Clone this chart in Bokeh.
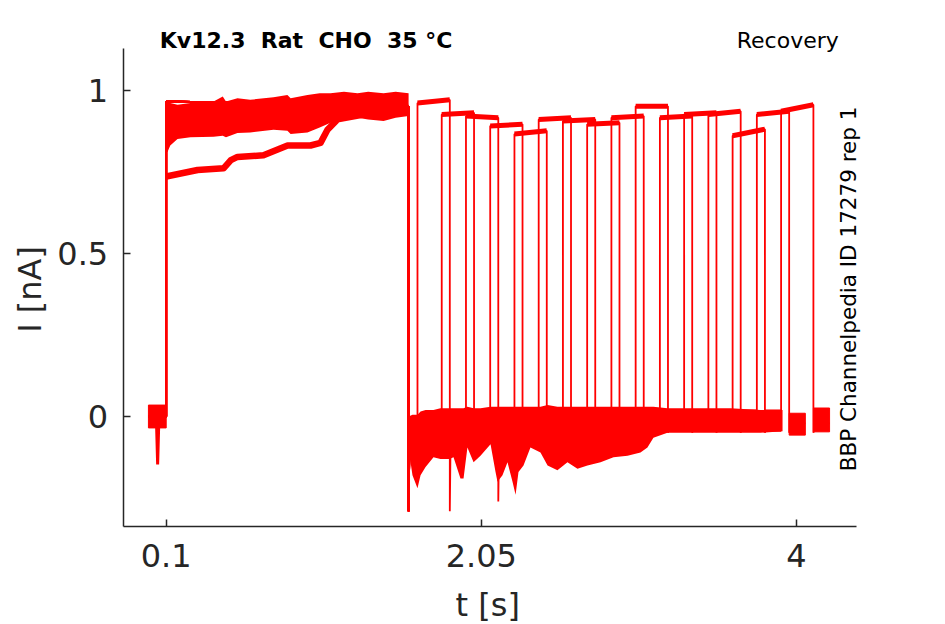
import math
from bokeh.plotting import figure
from bokeh.models import Range1d, FixedTicker, Label
from bokeh.embed import file_html
from bokeh.resources import INLINE

RED = "#ff0000"
INK = "#262626"
FONT = "DejaVu Sans"

# ---------------- data ----------------
x_ticks = [0.1, 2.05, 4]
x_tick_labels = ["0.1", "2.05", "4"]
y_ticks = [0, 0.5, 1]
y_tick_labels = ["0", "0.5", "1"]
x_axis_span = (-0.1661, 4.3717)
y_axis_span = (-0.3360, 1.1286)

sweep_start = -0.01
pre_on = 0.1
pre_off = 1.6
drop_min = -0.29

test_on = [1.655, 1.805, 1.955, 2.105, 2.255, 2.405, 2.555, 2.705,
           2.855, 3.005, 3.155, 3.305, 3.455, 3.605, 3.755, 3.905]
test_off = [1.855, 2.005, 2.155, 2.305, 2.455, 2.605, 2.755, 2.905,
            3.055, 3.205, 3.355, 3.505, 3.655, 3.805, 3.955, 4.105]
sweep_end = [1.955, 2.105, 2.255, 2.405, 2.555, 2.705, 2.855, 3.005,
             3.155, 3.305, 3.455, 3.605, 3.755, 3.905, 4.055, 4.205]
test_amp_on = [0.96, 0.925, 0.92, 0.89, 0.865, 0.91, 0.905, 0.895,
               0.915, 0.95, 0.915, 0.925, 0.925, 0.86, 0.925, 0.935]
test_amp_off = [0.97, 0.93, 0.915, 0.895, 0.875, 0.915, 0.91, 0.90,
                0.92, 0.95, 0.92, 0.93, 0.935, 0.88, 0.935, 0.955]
off_min = [-0.29, -0.06, -0.26, -0.06, -0.06, -0.06, -0.06, -0.06,
           -0.06, -0.05, -0.05, -0.05, -0.05, -0.05, -0.05, -0.05]
tail_lo = [-0.045, -0.045, -0.045, -0.045, -0.045, -0.045, -0.045, -0.045,
           -0.045, -0.045, -0.045, -0.045, -0.045, -0.045, -0.057, -0.047]
tail_hi = [0.02, 0.02, 0.02, 0.02, 0.02, 0.02, 0.02, 0.02,
           0.02, 0.02, 0.02, 0.02, 0.02, 0.02, 0.01, 0.026]

# pre-step baseline noise band
start_lo = -0.035
start_hi = 0.035
start_dip_t = [0.040, 0.047, 0.054]
start_dip_i = [-0.02, -0.147, -0.02]

# prepulse noise band (most sweeps)
pre_env_t = [0.1, 0.108, 0.125, 0.17, 0.25, 0.393, 0.45, 0.47, 0.541, 0.62, 0.764,
             0.85, 0.87, 0.974, 1.05, 1.117, 1.2, 1.284, 1.35, 1.445, 1.52, 1.6]
pre_env_lo = [0.81, 0.81, 0.83, 0.85, 0.855, 0.857, 0.86, 0.855, 0.868, 0.87, 0.878,
              0.875, 0.865, 0.87, 0.885, 0.90, 0.91, 0.915, 0.91, 0.905, 0.915, 0.92]
pre_env_hi = [0.965, 0.96, 0.96, 0.955, 0.96, 0.965, 0.98, 0.965, 0.975, 0.97, 0.978,
              0.985, 0.975, 0.985, 0.99, 0.99, 0.995, 0.99, 0.995, 0.99, 0.995, 0.99]

# slowly rising prepulse sweep
slow_t = [0.1, 0.294, 0.455, 0.50, 0.541, 0.702, 0.851, 0.993, 1.055, 1.098, 1.160, 1.6]
slow_i = [0.735, 0.755, 0.76, 0.785, 0.795, 0.80, 0.83, 0.83, 0.838, 0.878, 0.91, 0.95]

# baseline noise band after the prepulse
base_t = [1.600, 1.624, 1.655, 1.674, 1.705, 1.754, 1.797, 1.853, 1.878, 1.921,
          1.940, 1.964, 2.002, 2.045, 2.107, 2.138, 2.150, 2.181, 2.212, 2.243,
          2.262, 2.280, 2.311, 2.354, 2.416, 2.460, 2.521, 2.583, 2.645, 2.707,
          2.788, 2.868, 2.955, 3.035, 3.078, 3.115, 3.202, 3.406, 3.592, 3.778, 3.914]
base_lo = [-0.10, -0.18, -0.22, -0.18, -0.155, -0.125, -0.13, -0.13, -0.125, -0.19,
           -0.19, -0.095, -0.14, -0.12, -0.085, -0.17, -0.20, -0.18, -0.14, -0.20,
           -0.24, -0.17, -0.15, -0.095, -0.11, -0.15, -0.165, -0.14, -0.16, -0.15,
           -0.14, -0.125, -0.12, -0.11, -0.095, -0.065, -0.05, -0.05, -0.05, -0.05, -0.045]
base_hi = [0.0, 0.005, 0.005, 0.015, 0.02, 0.02, 0.025, 0.025, 0.025, 0.025,
           0.025, 0.03, 0.025, 0.025, 0.03, 0.03, 0.03, 0.03, 0.03, 0.03,
           0.03, 0.03, 0.03, 0.03, 0.03, 0.035, 0.03, 0.03, 0.03, 0.03,
           0.03, 0.03, 0.03, 0.03, 0.03, 0.03, 0.025, 0.025, 0.025, 0.02, 0.02]

title_text = "Kv12.3 \u00a0Rat \u00a0CHO \u00a035 °C"
protocol_text = "Recovery"
source_text = "BBP Channelpedia ID 17279 rep 1"
x_label = "t [s]"
y_label = "I [nA]"

# ---------------- figure ----------------
p = figure(frame_width=944, frame_height=623, min_border=0,
           x_range=Range1d(-0.92537, 4.91621), y_range=Range1d(-0.63400, 1.27412),
           output_backend="svg", toolbar_location=None,
           background_fill_color="white", border_fill_color="white")
p.outline_line_color = None
p.grid.visible = False

# noise bands
p.quad(left=[sweep_start], right=[pre_on], bottom=[start_lo], top=[start_hi],
       fill_color=RED, line_color=RED, line_width=1)
p.line(start_dip_t, start_dip_i, line_color=RED, line_width=3)
p.varea(x=pre_env_t, y1=pre_env_lo, y2=pre_env_hi, fill_color=RED)
p.line(slow_t, slow_i, line_color=RED, line_width=6.5, line_join="round")
p.varea(x=base_t, y1=base_lo, y2=base_hi, fill_color=RED)
p.quad(left=test_off, right=sweep_end, bottom=tail_lo, top=tail_hi,
       fill_color=RED, line_color=RED, line_width=1)

# sweep traces
xs, ys = [], []
for i in range(len(test_on)):
    xs.append([sweep_start, pre_on, pre_on, pre_off, pre_off, pre_off + 0.006,
               test_on[i], test_on[i], test_off[i], test_off[i], test_off[i] + 0.006,
               sweep_end[i]])
    ys.append([0.0, 0.0, 0.965, 0.95, drop_min, -0.05,
               -0.03, test_amp_on[i], test_amp_off[i], off_min[i], -0.03,
               -0.02])
p.multi_line(xs, ys, line_color=RED, line_width=1.8)

# test pulse noise thickness
p.segment(x0=test_on, y0=test_amp_on, x1=test_off, y1=test_amp_off,
          line_color=RED, line_width=5, line_cap="butt")

# axes (drawn at the corner of the reference's axes box)
for ax in (p.xaxis, p.yaxis):
    ax.axis_line_color = INK
    ax.axis_line_width = 1.5
    ax.major_tick_line_color = INK
    ax.major_tick_line_width = 1.5
    ax.major_tick_in = 7
    ax.major_tick_out = 0
    ax.minor_tick_line_color = None
    ax.major_label_text_font = FONT
    ax.major_label_text_font_size = "32px"
    ax.major_label_text_color = INK

p.xaxis.fixed_location = y_axis_span[0]
p.yaxis.fixed_location = x_axis_span[0]
p.xaxis.bounds = x_axis_span
p.yaxis.bounds = y_axis_span
p.xaxis.ticker = FixedTicker(ticks=x_ticks)
p.xaxis.major_label_overrides = {t: s for t, s in zip(x_ticks, x_tick_labels)}
p.yaxis.ticker = FixedTicker(ticks=y_ticks)
p.yaxis.major_label_overrides = {t: s for t, s in zip(y_ticks, y_tick_labels)}
p.xaxis.major_label_standoff = 18
p.yaxis.major_label_standoff = 15

# axis titles and annotations
p.add_layout(Label(x=2.0895, y=-0.578, text=x_label, text_font=FONT,
                   text_font_size="32px", text_color=INK,
                   text_align="center", text_baseline="middle"))
p.add_layout(Label(x=-0.7416, y=0.389, text=y_label, text_font=FONT,
                   text_font_size="32px", text_color=INK, angle=math.pi / 2,
                   text_align="center", text_baseline="middle"))
p.add_layout(Label(x=0.0604, y=1.153, text=title_text, text_font=FONT,
                   text_font_size="22px", text_font_style="bold", text_color="black",
                   text_align="left", text_baseline="middle"))
p.add_layout(Label(x=4.2621, y=1.153, text=protocol_text, text_font=FONT,
                   text_font_size="22px", text_color="black",
                   text_align="right", text_baseline="middle"))
p.add_layout(Label(x=4.3222, y=0.3908, text=source_text, text_font=FONT,
                   text_font_size="21.5px", text_color="black", angle=math.pi / 2,
                   text_align="center", text_baseline="middle"))

open("out.html", "w").write(file_html(p, INLINE))
